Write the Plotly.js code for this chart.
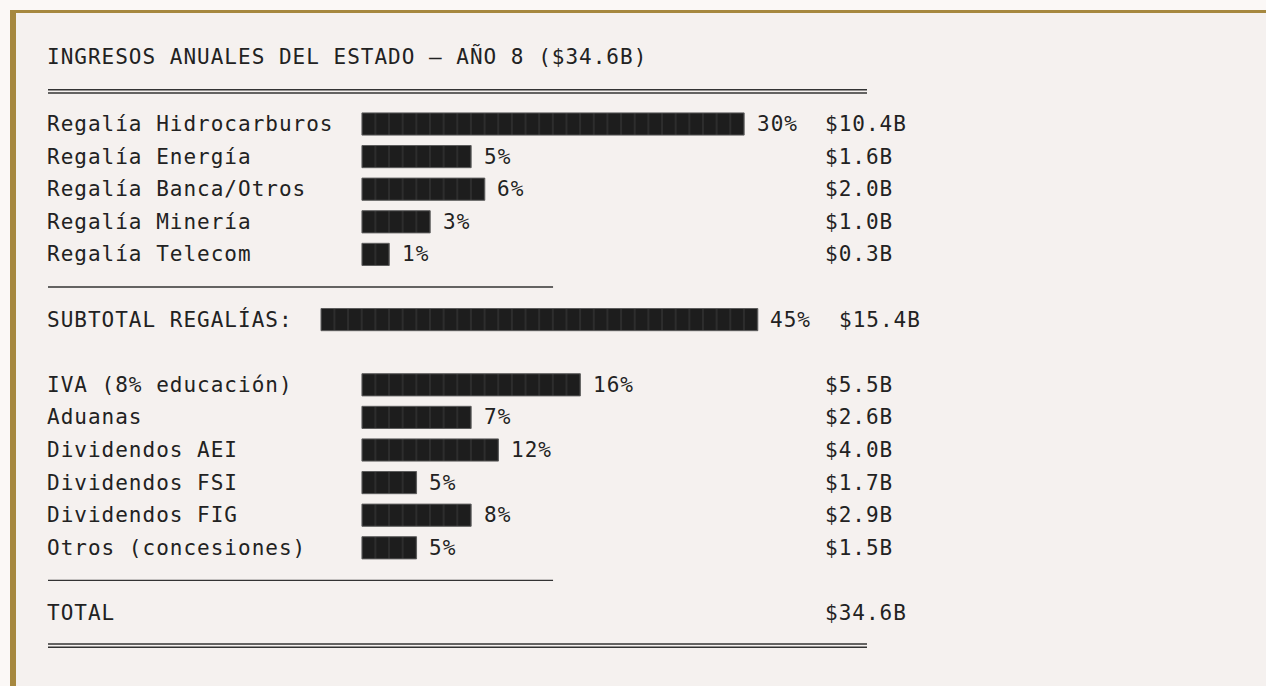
<!DOCTYPE html>
<html>
<head>
<meta charset="utf-8">
<script src="https://cdn.plot.ly/plotly-3.0.1.min.js"></script>
<style>
  html, body { margin: 0; padding: 0; background: #fbf8f6; }
  #chart { width: 1266px; height: 686px; }
  .main-svg text { letter-spacing: 1px; }
</style>
</head>
<body>
<div id="chart"></div>
<script>
// ---------- DATA ----------
const title = 'INGRESOS ANUALES DEL ESTADO — AÑO 8 ($34.6B)';

const royaltyLabels  = ['Regalía Hidrocarburos', 'Regalía Energía', 'Regalía Banca/Otros', 'Regalía Minería', 'Regalía Telecom'];
const royaltyBlocks  = [28, 8, 9, 5, 2];
const royaltyPct     = [30, 5, 6, 3, 1];
const royaltyAmounts = [10.4, 1.6, 2.0, 1.0, 0.3];

const subtotalLabel  = 'SUBTOTAL REGALÍAS:';
const subtotalBlocks = 32;
const subtotalPct    = 45;
const subtotalAmount = 15.4;

const otherLabels  = ['IVA (8% educación)', 'Aduanas', 'Dividendos AEI', 'Dividendos FSI', 'Dividendos FIG', 'Otros (concesiones)'];
const otherBlocks  = [16, 8, 10, 4, 8, 4];
const otherPct     = [16, 7, 12, 5, 8, 5];
const otherAmounts = [5.5, 2.6, 4.0, 1.7, 2.9, 1.5];

const totalLabel  = 'TOTAL';
const totalAmount = 34.6;

// ---------- LAYOUT GRID (monospace text grid) ----------
const W = 1266, H = 686;
const CW = 13.65, X0 = 48;          // column width, pixel of column 0
const LH = 32.6, Y0 = 124, R0 = 2;  // line height, pixel of row R0
const BAR_COL = 23, SUB_BAR_COL = 20, AMT_COL = 57, SUB_AMT_COL = 58;
const RULE_LEN = 60, UNDER_LEN = 37;

const rowsRoy = royaltyLabels.map((_, i) => 2 + i);
const rowSub = 8;
const rowsOth = otherLabels.map((_, i) => 10 + i);
const rowTotal = 17;

const fmtAmt = v => '$' + v.toFixed(1) + 'B';
const FONT = { family: 'DejaVu Sans Mono, monospace', size: 21, color: '#222222' };

const annotations = [];
function txt(col, row, s, ys) {
  annotations.push({
    x: col, y: row, xref: 'x', yref: 'y', text: s, showarrow: false,
    xanchor: 'left', yanchor: 'middle', align: 'left', font: FONT,
    borderpad: 0, borderwidth: 0, xshift: -1, yshift: ys || 0
  });
}

txt(0, 0, title, 3);
royaltyLabels.forEach((l, i) => {
  txt(0, rowsRoy[i], l);
  txt(BAR_COL + royaltyBlocks[i] + 1, rowsRoy[i], royaltyPct[i] + '%');
  txt(AMT_COL, rowsRoy[i], fmtAmt(royaltyAmounts[i]));
});
txt(0, rowSub, subtotalLabel);
txt(SUB_BAR_COL + subtotalBlocks + 1, rowSub, subtotalPct + '%');
txt(SUB_AMT_COL, rowSub, fmtAmt(subtotalAmount));
otherLabels.forEach((l, i) => {
  txt(0, rowsOth[i], l);
  txt(BAR_COL + otherBlocks[i] + 1, rowsOth[i], otherPct[i] + '%');
  txt(AMT_COL, rowsOth[i], fmtAmt(otherAmounts[i]));
});
txt(0, rowTotal, totalLabel);
txt(AMT_COL, rowTotal, fmtAmt(totalAmount));

// bars
const barY = [].concat(rowsRoy, [rowSub], rowsOth);
const barX = [].concat(royaltyBlocks, [subtotalBlocks], otherBlocks);
const barBase = [].concat(royaltyBlocks.map(() => BAR_COL), [SUB_BAR_COL], otherBlocks.map(() => BAR_COL));

const barTrace = {
  type: 'bar', orientation: 'h',
  x: barX, y: barY, base: barBase, width: 0.68,
  marker: {
    color: '#1d1d1d',
    line: { color: '#5c5c5c', width: 1 },
    pattern: { shape: '|', size: CW, solidity: 0.07, fgcolor: '#3c3c3c', bgcolor: '#1d1d1d', fillmode: 'replace' }
  },
  hoverinfo: 'skip', showlegend: false
};

// frame & rules
const px = v => v / W, py = v => 1 - v / H;
const shapes = [
  { type: 'rect', xref: 'paper', yref: 'paper', x0: px(10), x1: 1, y0: 0, y1: py(10), fillcolor: '#f5f1ef', line: { width: 0 }, layer: 'below' },
  { type: 'rect', xref: 'paper', yref: 'paper', x0: px(10), x1: 1, y0: py(13), y1: py(10), fillcolor: '#a6883f', line: { width: 0 }, layer: 'below' },
  { type: 'rect', xref: 'paper', yref: 'paper', x0: px(10), x1: px(16), y0: 0, y1: py(10), fillcolor: '#a6883f', line: { width: 0 }, layer: 'below' }
];
function doubleRule(row) {
  [-1.6, 1.6].forEach(d => shapes.push({
    type: 'line', xref: 'x', yref: 'y', x0: 0, x1: RULE_LEN, y0: row + d / LH, y1: row + d / LH,
    line: { color: '#333333', width: 1.4 }
  }));
}
function underRule(row) {
  shapes.push({
    type: 'line', xref: 'x', yref: 'y', x0: 0, x1: UNDER_LEN, y0: row, y1: row,
    line: { color: '#333333', width: 1.4 }
  });
}
doubleRule(1);
underRule(7);
underRule(16);
doubleRule(18);

const layout = {
  width: W, height: H,
  margin: { l: 0, r: 0, t: 0, b: 0 },
  paper_bgcolor: '#fbf8f6', plot_bgcolor: 'rgba(0,0,0,0)',
  xaxis: { range: [(0 - X0) / CW, (W - X0) / CW], visible: false, fixedrange: true },
  yaxis: { range: [R0 + (H - Y0) / LH, R0 + (0 - Y0) / LH], visible: false, fixedrange: true },
  shapes: shapes, annotations: annotations, bargap: 0, showlegend: false
};

Plotly.newPlot('chart', [barTrace], layout, { displayModeBar: false, staticPlot: true });
</script>
</body>
</html>
